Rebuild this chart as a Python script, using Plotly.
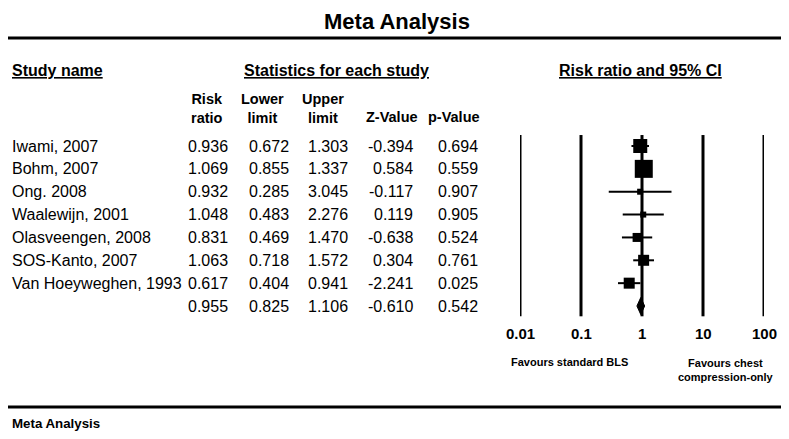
import plotly.graph_objects as go
import math

# ---------------- data ----------------
studies = ["Iwami, 2007", "Bohm, 2007", "Ong. 2008", "Waalewijn, 2001",
           "Olasveengen, 2008", "SOS-Kanto, 2007", "Van Hoeyweghen, 1993"]
risk_ratio = [0.936, 1.069, 0.932, 1.048, 0.831, 1.063, 0.617]
lower_limit = [0.672, 0.855, 0.285, 0.483, 0.469, 0.718, 0.404]
upper_limit = [1.303, 1.337, 3.045, 2.276, 1.470, 1.572, 0.941]
z_value = [-0.394, 0.584, -0.117, 0.119, -0.638, 0.304, -2.241]
p_value = [0.694, 0.559, 0.907, 0.905, 0.524, 0.761, 0.025]
# relative weights (marker sizes)
weight_size = [14, 18, 6, 6, 9, 11, 11]

summary_rr = 0.955
summary_lower = 0.825
summary_upper = 1.106
summary_z = -0.610
summary_p = 0.542

tick_values = [0.01, 0.1, 1, 10, 100]
tick_labels = ["0.01", "0.1", "1", "10", "100"]

# ---------------- layout constants (page pixels) ----------------
PAGE_W, PAGE_H = 789, 439
OFF = 8                      # default body margin of the page
W, H = PAGE_W - OFF, PAGE_H - OFF
row0_px = 146.0
row_step = 22.86
x_left_px, x_right_px = 520.0, 764.0   # page pixel positions of 0.01 and 100

n = len(studies)
rows = list(range(n))
summary_row = n

def fx(px):
    return (px - OFF) / W

def ypx(px):
    return (px - row0_px) / row_step

y_top = ypx(OFF)
y_bot = ypx(PAGE_H)

SANS = "Liberation Sans, Arial, sans-serif"

fig = go.Figure()

# vertical reference lines
for tv in tick_values:
    fig.add_shape(type="line", xref="x", yref="y", x0=tv, x1=tv,
                  y0=-0.48, y1=summary_row + 0.45,
                  line=dict(color="black", width=3), layer="below")

# CI lines
for i in rows:
    fig.add_trace(go.Scatter(x=[lower_limit[i], upper_limit[i]], y=[i, i],
                             mode="lines", line=dict(color="black", width=2),
                             hoverinfo="skip", showlegend=False, cliponaxis=False))

# squares
fig.add_trace(go.Scatter(x=risk_ratio, y=rows, mode="markers",
                         marker=dict(symbol="square", size=weight_size, color="black",
                                     opacity=1, line=dict(width=0)),
                         showlegend=False, cliponaxis=False))

# summary diamond
dh = 8.5 / row_step
fig.add_trace(go.Scatter(x=[summary_lower, summary_rr, summary_upper, summary_rr, summary_lower],
                         y=[summary_row, summary_row - dh, summary_row, summary_row + dh, summary_row],
                         mode="lines", fill="toself", fillcolor="black",
                         line=dict(color="black", width=1),
                         showlegend=False, cliponaxis=False))

ann = []
def A(text, x, y, size, bold=False, xanchor="left", under=False, yanchor="middle", pad=1):
    f = dict(size=size, family=SANS, color="black", weight="bold" if bold else "normal")
    if under:
        f["lineposition"] = "under"
    ann.append(dict(text=text, x=fx(x), y=y, xref="paper", yref="y",
                    xanchor=xanchor, yanchor=yanchor, showarrow=False, font=f,
                    borderpad=pad))

# table rows
col_right = [230, 291, 350, 415, 480]
TS = 16
for i in rows:
    A(studies[i], 10, i, TS)
    vals = [f"{risk_ratio[i]:.3f}", f"{lower_limit[i]:.3f}", f"{upper_limit[i]:.3f}",
            f"{z_value[i]:.3f}", f"{p_value[i]:.3f}"]
    for cx, v in zip(col_right, vals):
        A(v, cx, i, TS, xanchor="right")
svals = [f"{summary_rr:.3f}", f"{summary_lower:.3f}", f"{summary_upper:.3f}",
         f"{summary_z:.3f}", f"{summary_p:.3f}"]
for cx, v in zip(col_right, svals):
    A(v, cx, summary_row, TS, xanchor="right")

# column headers
HS = 14.5
A("Risk<br>ratio", 207, ypx(108), HS, bold=True, xanchor="center")
A("Lower<br>limit", 262, ypx(108), HS, bold=True, xanchor="center")
A("Upper<br>limit", 323, ypx(108), HS, bold=True, xanchor="center")
A("Z-Value", 392, ypx(117), HS, bold=True, xanchor="center")
A("p-Value", 454, ypx(117), HS, bold=True, xanchor="center")

# section headers
A("Study name", 10, ypx(70), 16, bold=True, under=True)
A("Statistics for each study", 336, ypx(70), 16, bold=True, xanchor="center", under=True)
A("Risk ratio and 95% CI", 640, ypx(70), 16, bold=True, xanchor="center", under=True)

# title and footer
A("Meta Analysis", 397, ypx(OFF), 22, bold=True, xanchor="center", yanchor="top", pad=0)
A("Meta Analysis", 10, ypx(423), 13.3, bold=True)

# tick labels
for tv, tl in zip(tick_values, tick_labels):
    px = x_left_px + (math.log10(tv) + 2) * (x_right_px - x_left_px) / 4
    A(tl, px, ypx(333), 15, bold=True, xanchor="center")

A("Favours standard BLS", 569, ypx(362), 11, bold=True, xanchor="center")
A("Favours chest<br>compression-only", 676, ypx(370), 11, bold=True, xanchor="left")

# horizontal rules
for ry in (38, 407):
    fig.add_shape(type="line", xref="paper", yref="y", x0=0, x1=1, y0=ypx(ry), y1=ypx(ry),
                  line=dict(color="black", width=3))

fig.update_layout(
    width=W, height=H, margin=dict(l=0, r=0, t=0, b=0),
    paper_bgcolor="white", plot_bgcolor="white",
    annotations=ann,
    xaxis=dict(type="log", range=[-2, 2], domain=[fx(x_left_px), fx(x_right_px)],
               showgrid=False, zeroline=False, showticklabels=False, ticks=""),
    yaxis=dict(range=[y_bot, y_top], domain=[0, 1], showgrid=False, zeroline=False,
               showticklabels=False, ticks=""),
    showlegend=False,
)

fig.write_html("out.html")
